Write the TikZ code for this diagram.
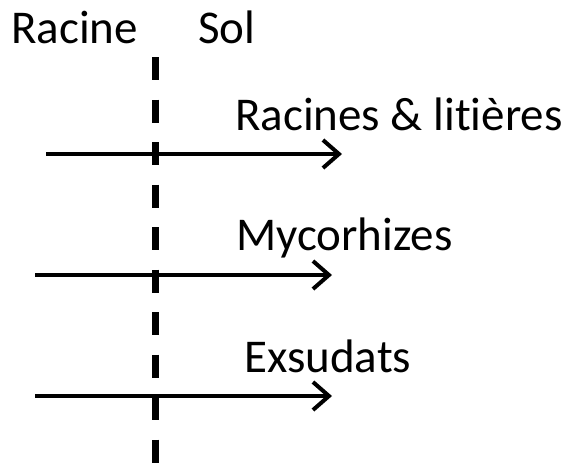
\documentclass[tikz,border=0pt]{standalone}
\usepackage{fontspec}
\setmainfont[Ligatures={NoCommon}]{Carlito}
\usetikzlibrary{arrows.meta}
\tikzset{
  lbl/.style={anchor=base west, inner sep=0pt, font=\fontsize{47}{51}\selectfont},
  flux/.style={line width=4pt, -{Straight Barb[length=16pt, width=28pt, line width=4pt]}},
  frontier/.style={line width=7pt, dash pattern=on 23pt off 19.5pt}
}
\begin{document}
\begin{tikzpicture}[x=1pt, y=-1pt]
\useasboundingbox (0,0) rectangle (573,464);
\node[lbl] (racine) at (11,43) {Racine};
\node[lbl] (sol) at (198,43) {Sol};
\node[lbl] (rl) at (235,130) {Racines \& litières};
\node[lbl] (myc) at (236,250) {Mycorhizes};
\node[lbl] (exs) at (244,372) {Exsudats};
\coordinate (dtop) at (155,57);
\coordinate (dbot) at (155,470);
\draw[frontier] (dtop) -- (dbot);
\coordinate (a1s) at (46,154); \coordinate (a1e) at (342,154);
\coordinate (a2s) at (35,275); \coordinate (a2e) at (332,275);
\coordinate (a3s) at (35,396); \coordinate (a3e) at (332,396);
\draw[flux] (a1s) -- (a1e);
\draw[flux] (a2s) -- (a2e);
\draw[flux] (a3s) -- (a3e);
\end{tikzpicture}
\end{document}
